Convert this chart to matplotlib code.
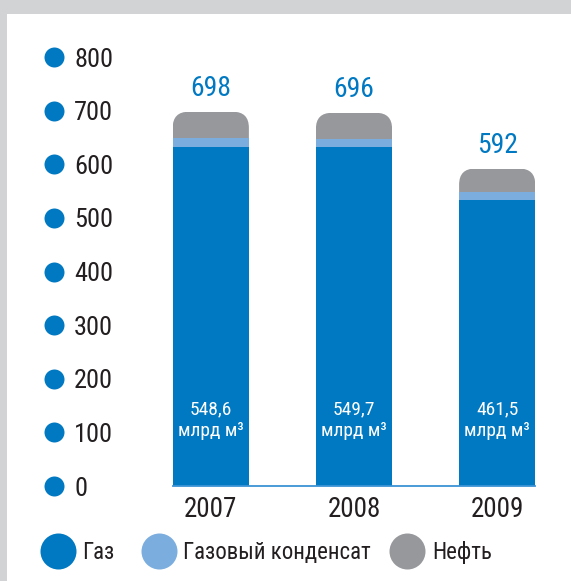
import matplotlib
matplotlib.use("Agg")
import matplotlib.pyplot as plt
from matplotlib.patches import FancyBboxPatch, Rectangle, BoxStyle
from matplotlib.lines import Line2D
from matplotlib.transforms import blended_transform_factory
import numpy as np

# ---------------- data ----------------
years = ["2007", "2008", "2009"]
gas = [633, 632, 533]
condensate = [16, 16, 15]
oil = [49, 48, 44]
totals = [698, 696, 592]
gas_bcm = ["548,6", "549,7", "461,5"]
gas_unit = "млрд м³"
series_names = ["Газ", "Газовый конденсат", "Нефть"]
yticks = [0, 100, 200, 300, 400, 500, 600, 700, 800]

# ---------------- style ----------------
BLUE = "#0079c2"
LIGHT = "#7badde"
GRAY = "#97989c"
BORDER = "#d2d3d5"
TEXT = "#231f20"
LINE = "#3b93d6"
plt.rcParams["font.family"] = ["Roboto Condensed", "DejaVu Sans"]

W, H = 571, 581
fig = plt.figure(figsize=(W / 100, H / 100), dpi=100)
fig.patch.set_facecolor(BORDER)
fig.add_artist(Rectangle((7 / W, 0), 1, 1 - 14 / H, transform=fig.transFigure,
                         facecolor="white", edgecolor="none", zorder=0))

base_px = 486.0
px_per_unit = 0.5362
ax_h_px = 800 * px_per_unit
ax_left_px, ax_right_px = 172.7, 535.0
ax = fig.add_axes([ax_left_px / W, (H - base_px) / H,
                   (ax_right_px - ax_left_px) / W, ax_h_px / H])
ax.set_facecolor("none")
bar_w = 0.532
ax.set_xlim(-bar_w / 2, (ax_right_px - ax_left_px) / 143.2 - bar_w / 2)
ax.set_ylim(0, 800)
for s in ax.spines.values():
    s.set_visible(False)

x = np.arange(len(years))
gas_a = np.array(gas)
cond_a = np.array(condensate)
ax.bar(x, gas_a, bar_w, color=BLUE, zorder=3, linewidth=0)
ax.bar(x, cond_a, bar_w, bottom=gas_a, color=LIGHT, zorder=3, linewidth=0)
oil_bars = ax.bar(x, oil, bar_w, bottom=gas_a + cond_a, color=GRAY, zorder=2, linewidth=0)

# rounded top caps via clip path
xlim = ax.get_xlim()
px_per_x = (ax_right_px - ax_left_px) / (xlim[1] - xlim[0])
radius_px = 16
aspect = px_per_x / px_per_unit
for b in oil_bars:
    top = b.get_y() + b.get_height()
    clip = FancyBboxPatch((b.get_x(), 0), b.get_width(), top,
                          boxstyle=BoxStyle.Round(pad=0, rounding_size=radius_px / px_per_x),
                          mutation_aspect=aspect, transform=ax.transData)
    b.set_clip_path(clip)

ax.axhline(0, color=LINE, lw=1.3, zorder=4, clip_on=False)

# y ticks with dots
ax.set_yticks(yticks)
ax.set_yticklabels([str(v) for v in yticks])
ax.tick_params(axis="y", length=0, pad=(ax_left_px - 74) * 0.72,
               labelsize=19, labelcolor=TEXT)
for lbl in ax.get_yticklabels():
    lbl.set_horizontalalignment("left")
tr = blended_transform_factory(fig.transFigure, ax.transData)
ax.scatter([54.2 / W] * len(yticks), yticks, s=(20 * 0.72) ** 2, color=BLUE,
           transform=tr, clip_on=False, zorder=5, linewidths=0)

# x ticks
ax.set_xticks(x)
ax.set_xticklabels(years)
ax.tick_params(axis="x", length=0, pad=7, labelsize=19.5, labelcolor=TEXT)

# totals
for xi, t in zip(x, totals):
    ax.annotate(str(t), (xi, t), xytext=(0, 16 * 0.72), textcoords="offset points",
                ha="center", va="baseline", color=BLUE, fontsize=20)

# inner labels
for xi, v in zip(x, gas_bcm):
    ax.annotate(v, (xi, 0), xytext=(0, 71.3 * 0.72), textcoords="offset points",
                ha="center", va="baseline", color="white", fontsize=14, zorder=6)
    ax.annotate(gas_unit, (xi, 0), xytext=(0, 50 * 0.72), textcoords="offset points",
                ha="center", va="baseline", color="white", fontsize=14, zorder=6)

# legend (manual)
colors = [BLUE, LIGHT, GRAY]
handle_x = [57.7, 159.3, 407.3]
text_x = [81.7, 183.3, 432.3]
leg_y = 551
for name, c, hx, tx in zip(series_names, colors, handle_x, text_x):
    fig.add_artist(Line2D([hx / W], [1 - leg_y / H], marker="o", markersize=36 * 0.72,
                          color=c, markeredgewidth=0, transform=fig.transFigure))
    fig.text(tx / W, 1 - 559.3 / H, name, ha="left", va="baseline",
             fontsize=16.5, color=TEXT)

fig.savefig("out.png", dpi=100, facecolor=fig.get_facecolor())
